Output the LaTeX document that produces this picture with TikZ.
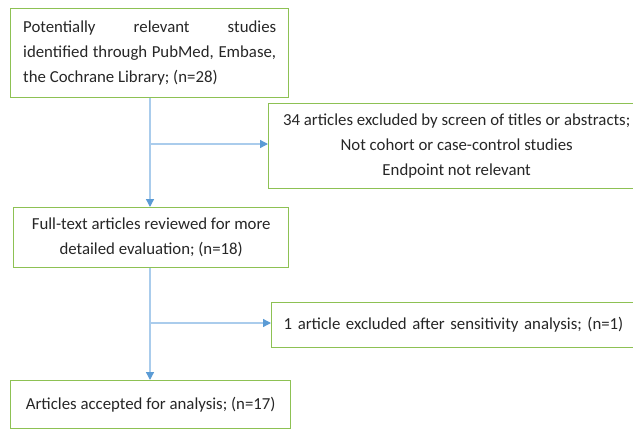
\documentclass[tikz,border=0pt]{standalone}
\usepackage{fontspec}
\setmainfont{Carlito}
\usetikzlibrary{arrows.meta}
\definecolor{boxgreen}{RGB}{141,193,83}
\definecolor{lineblue}{RGB}{170,204,236}
\definecolor{tipblue}{RGB}{91,155,213}
\begin{document}
\begin{tikzpicture}[x=1pt,y=-1pt,
  every node/.style={font=\fontsize{16.8}{25}\selectfont, text=black!85},
  flowbox/.style={draw=boxgreen, line width=1.4pt, anchor=north west, inner sep=0pt},
  arr/.style={draw=lineblue, line width=1.3pt, -{Triangle[length=8pt,width=8pt,color=tipblue]}}]
\useasboundingbox (0,0) rectangle (633,429);
\clip (0,0) rectangle (633,429);
\node[flowbox, minimum width=278pt, minimum height=89pt] (b1) at (10,8)
  {\parbox{253pt}{Potentially relevant studies\linebreak identified through PubMed, Embase,\linebreak the Cochrane Library; (n=28)}};
\node[flowbox, minimum width=376pt, minimum height=85pt, align=center] (b2) at (268,103)
  {34 articles excluded by screen of titles or abstracts;\\Not cohort or case-control studies\\Endpoint not relevant};
\node[flowbox, minimum width=275pt, minimum height=60pt, align=center] (b3) at (13,207)
  {Full-text articles reviewed for more\\detailed evaluation; (n=18)};
\node[flowbox, minimum width=380pt, minimum height=45pt, text width=356pt, inner xsep=12pt, align=left] (b4) at (271,302)
  {1 article excluded after sensitivity analysis; (n=1)};
\node[flowbox, minimum width=280pt, minimum height=48pt, align=center] (b5) at (10,380)
  {Articles accepted for analysis; (n=17)};
\coordinate (v) at (150,0);
\coordinate (j1) at (150,144);
\coordinate (j2) at (150,323);
\draw[arr] (b1.south -| v) -- (b3.north -| v);
\draw[arr] (j1) -- (j1 -| b2.west);
\draw[arr] (b3.south -| v) -- (b5.north -| v);
\draw[arr] (j2) -- (j2 -| b4.west);
\end{tikzpicture}
\end{document}
